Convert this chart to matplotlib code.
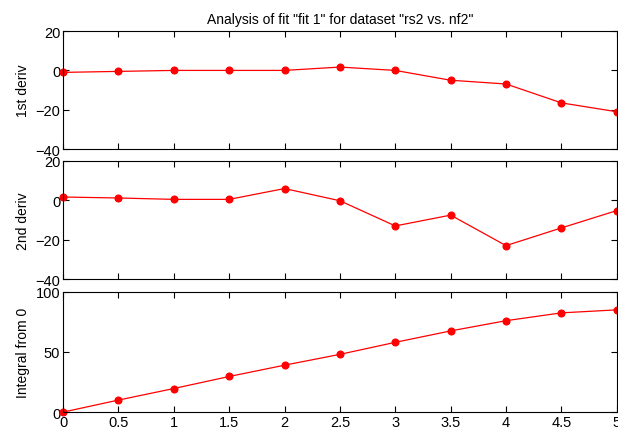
import matplotlib.pyplot as plt

plt.rcParams['font.family'] = ['Liberation Sans', 'DejaVu Sans']

x = [0, 0.5, 1, 1.5, 2, 2.5, 3, 3.5, 4, 4.5, 5]
deriv1 = [-1, -0.5, 0, 0, 0, 1.7, 0, -5, -6.9, -16.5, -21]
deriv2 = [1.7, 1.2, 0.5, 0.5, 6, -0.2, -13, -7.5, -23, -14, -5.2]
integral = [0, 10, 19.6, 29.6, 39, 48, 58, 67.5, 76, 82.5, 85]

labels = ["1st deriv", "2nd deriv", "Integral from 0"]
ylims = [(-40, 20), (-40, 20), (0, 100)]
yticks = [[-40, -20, 0, 20], [-40, -20, 0, 20], [0, 50, 100]]
xticks = [0, 0.5, 1, 1.5, 2, 2.5, 3, 3.5, 4, 4.5, 5]

fig = plt.figure(figsize=(6.18, 4.39), dpi=100)
# [left, bottom, width, height]
boxes = [[0.102, 0.658, 0.896, 0.269],
         [0.102, 0.362, 0.896, 0.269],
         [0.102, 0.059, 0.896, 0.274]]

for i, (series, lab) in enumerate(zip([deriv1, deriv2, integral], labels)):
    ax = fig.add_axes(boxes[i])
    ax.plot(x, series, color='red', lw=0.9, marker='o', ms=4.8, clip_on=False)
    ax.set_xlim(0, 5)
    ax.set_ylim(*ylims[i])
    ax.set_yticks(yticks[i])
    ax.set_xticks(xticks)
    ax.tick_params(direction='in', top=True, right=True, labelsize=10.5,
                   length=4, width=0.8, pad=2)
    if i < 2:
        ax.set_xticklabels([])
    else:
        ax.set_xticklabels(['0', '0.5', '1', '1.5', '2', '2.5', '3', '3.5',
                            '4', '4.5', '5'])
    ax.set_ylabel(lab, fontsize=10, labelpad=4)
    for s in ax.spines.values():
        s.set_linewidth(0.8)
    if i == 0:
        ax.set_title('Analysis of fit "fit 1" for dataset "rs2 vs. nf2"',
                     fontsize=10, pad=6)

fig.savefig('out.png', dpi=100)
